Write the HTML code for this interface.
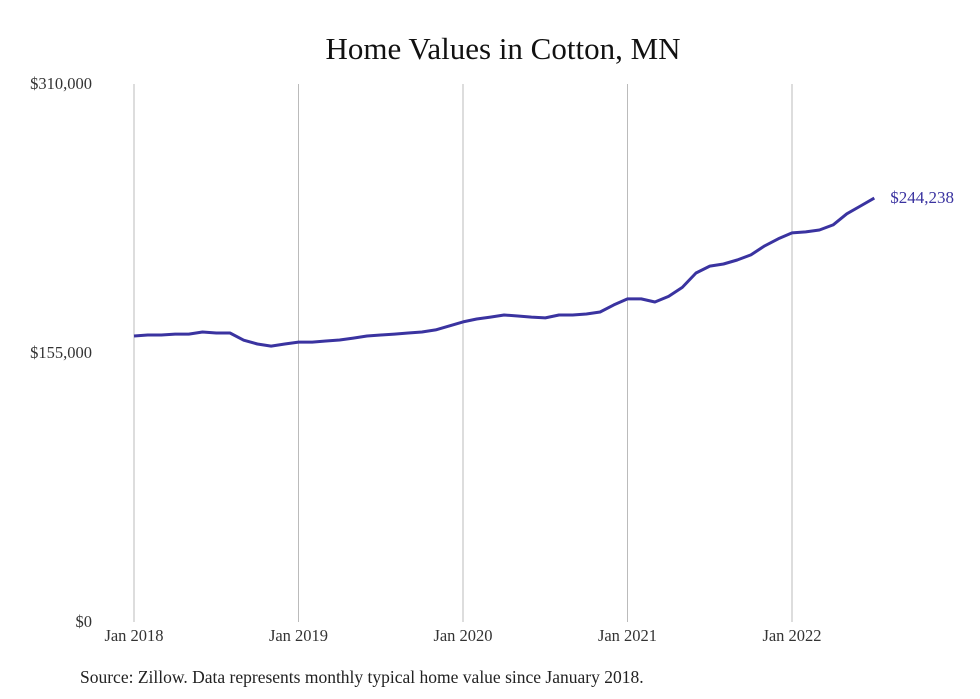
<!DOCTYPE html>
<html><head><meta charset="utf-8"><style>
body{margin:0;background:#fff;}
svg{display:block;font-family:"Liberation Serif",serif;}
</style></head><body>
<svg width="980" height="699">
<text x="503" y="59" text-anchor="middle" font-size="31" fill="#111">Home Values in Cotton, MN</text>
<g id="grid"></g><g id="yaxis"></g><g id="xaxis"></g>
<path id="line" fill="none" stroke="#3a33a0" stroke-width="3" stroke-linejoin="round"/>
<text id="endlabel" font-size="17" fill="#3a33a0"></text>
<text x="80" y="683" font-size="17.5" fill="#222">Source: Zillow. Data represents monthly typical home value since January 2018.</text>
</svg>
<script>
const yTicks=[0,155000,310000];
const yTickLabels=["$0","$155,000","$310,000"];
const xTickLabels=["Jan 2018","Jan 2019","Jan 2020","Jan 2021","Jan 2022"];
const xTickMonths=[0,12,24,36,48];
const values=[164800,165400,165400,165900,165900,167100,166500,166500,162400,160200,159000,160200,
161300,161300,161900,162500,163600,164800,165400,165900,166500,167100,168300,170600,
172900,174600,175700,176900,176300,175700,175200,176900,176900,177500,178600,182700,
186200,186200,184400,187600,192800,201100,205100,206300,208600,211500,216700,220800,
224200,224800,225900,228800,235200,239700,244238];
const lastLabel="$244,238";
const NS="http://www.w3.org/2000/svg";
const x=m=>134+m*(792-134)/48;
const y=v=>622-v*(622-84)/310000;
function mk(t,a,p){const e=document.createElementNS(NS,t);for(const k in a)e.setAttribute(k,a[k]);p.appendChild(e);return e;}
const grid=document.getElementById('grid'),ya=document.getElementById('yaxis'),xa=document.getElementById('xaxis');
xTickMonths.forEach((m,i)=>{
 const l=mk('line',{x1:x(m),x2:x(m),y1:84,y2:622,stroke:'#bbb','stroke-width':1},grid);
 
 
 const t=mk('text',{x:x(m),y:641,'text-anchor':'middle','font-size':16.5,fill:'#333'},xa);
 t.textContent=xTickLabels[i];
 
 
});
yTicks.forEach((v,i)=>{
 const t=mk('text',{x:92,y:y(v)+5,'text-anchor':'end','font-size':16.5,fill:'#333'},ya);
 t.textContent=yTickLabels[i];
 
 
});
document.getElementById('line').setAttribute('d',values.map((v,i)=>(i?'L':'M')+x(i).toFixed(1)+','+y(v).toFixed(1)).join(''));
const n=values.length-1,el=document.getElementById('endlabel');
el.setAttribute('x',x(n)+16);el.setAttribute('y',y(values[n])+5);el.textContent=lastLabel;
</script>
</body></html>
